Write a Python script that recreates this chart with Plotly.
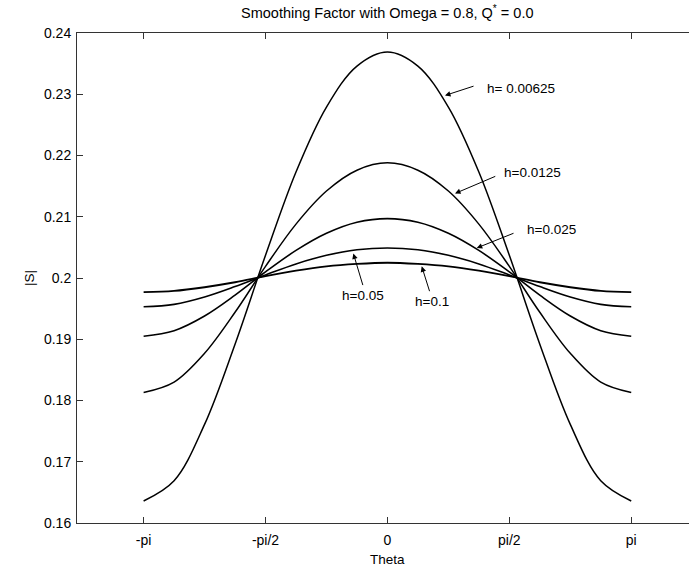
import plotly.graph_objects as go

theta = [-3.1416, -2.7489, -2.3562, -1.9635, -1.5708, -1.1781, -0.7854, -0.3927, 0.0,
         0.3927, 0.7854, 1.1781, 1.5708, 1.9635, 2.3562, 2.7489, 3.1416]

s_h00625 = [0.1636, 0.1669, 0.1761, 0.1892, 0.2037, 0.2173, 0.2279, 0.2346, 0.2369,
            0.2346, 0.2279, 0.2173, 0.2037, 0.1892, 0.1761, 0.1669, 0.1636]
s_h0125 = [0.1813, 0.1830, 0.1877, 0.1944, 0.2019, 0.2088, 0.2142, 0.2176, 0.2188,
           0.2176, 0.2142, 0.2088, 0.2019, 0.1944, 0.1877, 0.1830, 0.1813]
s_h025 = [0.1905, 0.1914, 0.1938, 0.1972, 0.2010, 0.2045, 0.2073, 0.2091, 0.2097,
          0.2091, 0.2073, 0.2045, 0.2010, 0.1972, 0.1938, 0.1914, 0.1905]
s_h05 = [0.1953, 0.1957, 0.1969, 0.1986, 0.2005, 0.2023, 0.2037, 0.2046, 0.2049,
         0.2046, 0.2037, 0.2023, 0.2005, 0.1986, 0.1969, 0.1957, 0.1953]
s_h1 = [0.1977, 0.1979, 0.1985, 0.1993, 0.2003, 0.2012, 0.2019, 0.2023, 0.2025,
        0.2023, 0.2019, 0.2012, 0.2003, 0.1993, 0.1985, 0.1979, 0.1977]

series = [s_h00625, s_h0125, s_h025, s_h05, s_h1]
widths = [1.5, 1.5, 1.6, 1.6, 1.9]

x_tickvals = [-3.14159, -1.5708, 0, 1.5708, 3.14159]
x_ticktext = ["-pi", "-pi/2", "0", "pi/2", "pi"]
y_tickvals = [0.16, 0.17, 0.18, 0.19, 0.2, 0.21, 0.22, 0.23, 0.24]
y_ticktext = ["0.16", "0.17", "0.18", "0.19", "0.2", "0.21", "0.22", "0.23", "0.24"]

# label texts, arrow tips (x,y) and tails (ax,ay), label positions
labels = ["h= 0.00625", "h=0.0125", "h=0.025", "h=0.05", "h=0.1"]
tip_x = [0.742, 0.871, 1.151, -0.439, 0.442]
tip_y = [0.2298, 0.2138, 0.2049, 0.2040, 0.2019]
tail_x = [1.129, 1.409, 1.644, -0.311, 0.549]
tail_y = [0.2314, 0.2167, 0.2074, 0.1986, 0.1976]
lab_x = [1.258, 1.477, 1.773, -0.314, 0.575]
lab_y = [0.2310, 0.2172, 0.2080, 0.1972, 0.1961]
lab_anchor = ["left", "left", "left", "center", "center"]

FONT = "Liberation Sans, Arial, sans-serif"

fig = go.Figure()
for s, w in zip(series, widths):
    fig.add_trace(go.Scatter(x=theta, y=s, mode="lines",
                             line=dict(color="black", width=w, shape="spline", smoothing=1.0),
                             showlegend=False, hoverinfo="skip"))

annotations = []
for i in range(len(labels)):
    annotations.append(dict(x=tip_x[i], y=tip_y[i], ax=tail_x[i], ay=tail_y[i],
                            xref="x", yref="y", axref="x", ayref="y", text="",
                            showarrow=True, arrowhead=2, arrowsize=1.1, arrowwidth=1,
                            arrowcolor="black"))
    annotations.append(dict(x=lab_x[i], y=lab_y[i], xref="x", yref="y", text=labels[i],
                            showarrow=False, xanchor=lab_anchor[i], yanchor="middle",
                            font=dict(family=FONT, size=13.5, color="black")))

annotations.append(dict(x=0, y=1.0, xref="x", yref="paper", yshift=21,
                        text="Smoothing Factor with Omega = 0.8, Q<sup>*</sup> = 0.0",
                        showarrow=False, xanchor="center", yanchor="middle",
                        font=dict(family=FONT, size=14.5, color="black")))
annotations.append(dict(x=0, y=0, xref="x", yref="paper", yshift=-36,
                        text="Theta", showarrow=False, xanchor="center", yanchor="middle",
                        font=dict(family=FONT, size=13.5, color="black")))
annotations.append(dict(x=0, y=0.2, xref="paper", yref="y", xshift=-48,
                        text="|S|", textangle=-90, showarrow=False,
                        xanchor="center", yanchor="middle",
                        font=dict(family=FONT, size=13.5, color="black")))

fig.update_layout(
    width=689, height=573,
    margin=dict(l=77, r=0, t=33, b=50),
    paper_bgcolor="white", plot_bgcolor="white",
    font=dict(family=FONT, size=14, color="black"),
    annotations=annotations,
    xaxis=dict(range=[-4.0, 3.886], tickvals=x_tickvals, ticktext=x_ticktext,
               ticks="inside", ticklen=6, tickcolor="#333", showgrid=False, zeroline=False,
               showline=True, linecolor="#333", linewidth=1, mirror="ticks",
               ticklabelstandoff=4,
               tickfont=dict(family=FONT, size=14, color="black")),
    yaxis=dict(range=[0.16, 0.24], tickvals=y_tickvals, ticktext=y_ticktext,
               ticks="inside", ticklen=6, tickcolor="#333", showgrid=False, zeroline=False,
               showline=True, linecolor="#333", linewidth=1, mirror=False,
               ticklabelstandoff=2,
               tickfont=dict(family=FONT, size=14, color="black")),
)

fig.write_html("out.html")
